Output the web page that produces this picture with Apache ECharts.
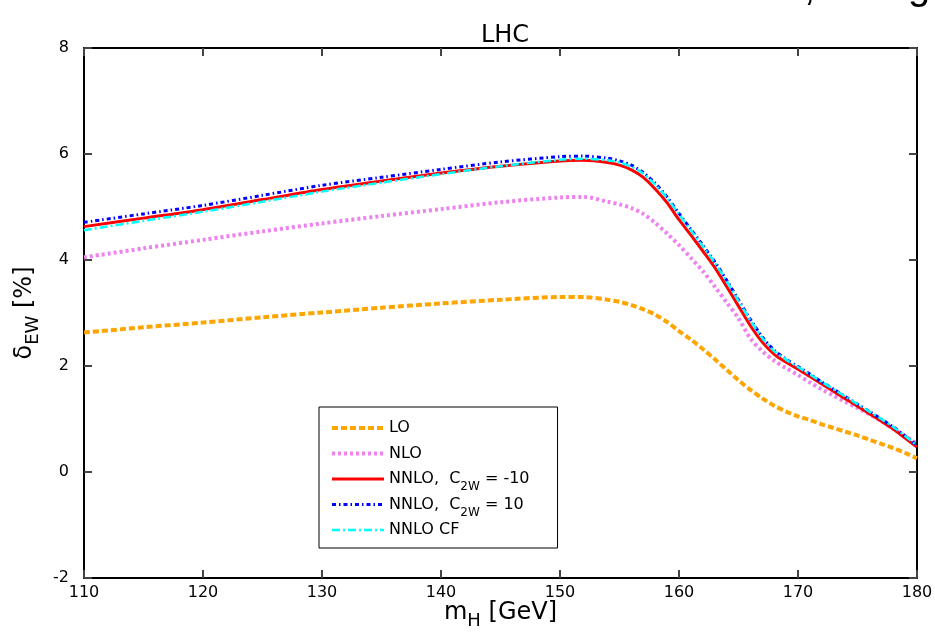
<!DOCTYPE html>
<html>
<head>
<meta charset="utf-8">
<script src="https://cdn.jsdelivr.net/npm/echarts@6/dist/echarts.min.js"></script>
<style>
  html, body { margin: 0; padding: 0; background: #fff; }
  #chart { width: 935px; height: 637px; }
</style>
</head>
<body>
<div id="chart"></div>
<script>
// Higgs mass grid (GeV)
const mH = [110, 115, 120, 125, 130, 135, 140, 145, 150, 152, 154,
  155, 156, 157, 158, 159, 160, 161, 162, 163, 164, 165, 166, 167, 168, 169,
  170, 171, 172, 173, 174, 175, 176, 177, 178, 179, 180];

// electroweak correction delta_EW in percent
const deltaLO = [2.63, 2.73, 2.82, 2.92, 3.01, 3.10, 3.18, 3.25, 3.30, 3.30, 3.25,
  3.21, 3.15, 3.07, 2.97, 2.83, 2.66, 2.50, 2.32, 2.13, 1.93, 1.73, 1.55, 1.39, 1.25, 1.14,
  1.05, 0.98, 0.90, 0.83, 0.76, 0.69, 0.61, 0.53, 0.45, 0.36, 0.26];
const deltaNLO = [4.05, 4.22, 4.38, 4.54, 4.69, 4.83, 4.96, 5.09, 5.18, 5.19, 5.10,
  5.05, 4.98, 4.87, 4.70, 4.50, 4.28, 4.04, 3.79, 3.50, 3.20, 2.90, 2.52, 2.28, 2.10, 1.96,
  1.83, 1.69, 1.56, 1.44, 1.32, 1.21, 1.09, 0.96, 0.82, 0.68, 0.53];
const deltaNNLOm10 = [4.63, 4.79, 4.95, 5.14, 5.33, 5.49, 5.64, 5.77, 5.87, 5.88, 5.84,
  5.79, 5.70, 5.56, 5.34, 5.08, 4.76, 4.47, 4.17, 3.86, 3.50, 3.13, 2.76, 2.45, 2.22, 2.07,
  1.94, 1.80, 1.66, 1.52, 1.38, 1.24, 1.10, 0.96, 0.81, 0.64, 0.47];
const deltaNNLOp10 = [4.71, 4.87, 5.03, 5.22, 5.41, 5.56, 5.71, 5.85, 5.95, 5.96, 5.92,
  5.87, 5.79, 5.65, 5.45, 5.19, 4.88, 4.58, 4.28, 3.97, 3.62, 3.25, 2.88, 2.55, 2.30, 2.13,
  1.99, 1.85, 1.70, 1.56, 1.42, 1.28, 1.14, 1.00, 0.85, 0.68, 0.50];
const deltaNNLOCF = [4.56, 4.74, 4.91, 5.10, 5.29, 5.46, 5.62, 5.77, 5.89, 5.91, 5.88,
  5.84, 5.76, 5.63, 5.42, 5.17, 4.86, 4.56, 4.26, 3.95, 3.60, 3.23, 2.86, 2.53, 2.28, 2.12,
  1.98, 1.84, 1.70, 1.56, 1.42, 1.28, 1.14, 1.00, 0.85, 0.68, 0.50];

// axis ticks
const xTicks = [110, 120, 130, 140, 150, 160, 170, 180];
const yTicks = [-2, 0, 2, 4, 6, 8];

const seriesNames = ['LO', 'NLO', 'NNLO,  C2W = -10', 'NNLO,  C2W = 10', 'NNLO CF'];
const legendRich = {
  'LO': '{n|LO}{s| }',
  'NLO': '{n|NLO}{s| }',
  'NNLO,  C2W = -10': '{n|NNLO,  C}{s|2W}{n| = -10}',
  'NNLO,  C2W = 10': '{n|NNLO,  C}{s|2W}{n| = 10}',
  'NNLO CF': '{n|NNLO CF}{s| }'
};

const FONT = '"DejaVu Sans", "Liberation Sans", Arial, sans-serif';
const pairs = ys => mH.map((x, i) => [x, ys[i]]);

const styles = [
  { color: '#FFA500', width: 4, type: [6, 3] },
  { color: '#EE82EE', width: 4, type: [3, 3] },
  { color: '#FF0000', width: 3, type: 'solid' },
  { color: '#0000FF', width: 3, type: [4, 3, 1.5, 3] },
  { color: '#00FFFF', width: 2.5, type: [8, 3, 2, 3] }
];
const values = [deltaLO, deltaNLO, deltaNNLOm10, deltaNNLOp10, deltaNNLOCF];

const chart = echarts.init(document.getElementById('chart'), null, { renderer: 'canvas' });

const axisCommon = {
  axisLine: { show: true, onZero: false, lineStyle: { color: '#000', width: 2 } },
  axisTick: { show: true, inside: true, length: 8, lineStyle: { color: '#444', width: 2 } },
  splitLine: { show: false }
};

const titleRich = {
  n: { fontFamily: FONT, fontSize: 24, color: '#000', verticalAlign: 'middle', lineHeight: 24 },
  s: { fontFamily: FONT, fontSize: 18, color: '#000', verticalAlign: 'middle', lineHeight: 18, padding: [16, 0, 0, 0] }
};

chart.setOption({
  backgroundColor: '#fff',
  animation: false,
  title: {
    text: 'LHC',
    left: 500, top: 19, textAlign: 'center',
    textStyle: { fontFamily: FONT, fontSize: 24, fontWeight: 'normal', color: '#000' }
  },
  grid: { left: 84, right: 18, top: 48, bottom: 59, outerBoundsMode: 'none', containLabel: false },
  xAxis: [
    Object.assign({}, axisCommon, {
      type: 'value', min: 110, max: 180, interval: 10, position: 'bottom',
      customValues: xTicks,
      axisLabel: { show: true, margin: 7, color: '#000', fontFamily: FONT, fontSize: 16 },
      name: '{n|m}{s|H}{n| [GeV]}',
      nameLocation: 'middle', nameGap: 23, nameMoveOverlap: false,
      nameTextStyle: { rich: titleRich }
    }),
    Object.assign({}, axisCommon, {
      type: 'value', min: 110, max: 180, interval: 10, position: 'top',
      axisLabel: { show: false }
    })
  ],
  yAxis: [
    Object.assign({}, axisCommon, {
      type: 'value', min: -2, max: 8, interval: 2, position: 'left',
      customValues: yTicks,
      axisLabel: { show: true, margin: 15, color: '#000', fontFamily: FONT, fontSize: 16 },
      name: '{n|δ}{s|EW}{n| [%]}',
      nameLocation: 'middle', nameGap: 36,
      nameTextStyle: { rich: titleRich }
    }),
    Object.assign({}, axisCommon, {
      type: 'value', min: -2, max: 8, interval: 2, position: 'right',
      axisLabel: { show: false }
    })
  ],
  legend: {
    orient: 'vertical',
    left: 319, top: 407,
    padding: [7, 28, 4, 11],
    itemGap: -2.5,
    itemWidth: 52, itemHeight: 14,
    itemTextGap: 11,
    borderColor: '#000', borderWidth: 1,
    backgroundColor: '#fff',
    data: seriesNames,
    itemStyle: { opacity: 0 },
    lineStyle: { width: 'inherit' },
    formatter: name => legendRich[name],
    textStyle: {
      rich: {
        n: { fontFamily: FONT, fontSize: 16, color: '#000', verticalAlign: 'middle', lineHeight: 16 },
        s: { fontFamily: FONT, fontSize: 12, color: '#000', verticalAlign: 'middle', lineHeight: 12, padding: [16, 0, 0, 0] }
      }
    }
  },
  graphic: [
    { type: 'text', left: 804, top: -31, style: { text: ',', font: '40px "Liberation Sans", Arial, sans-serif', fill: '#000' }, silent: true },
    { type: 'text', left: 908, top: -32, style: { text: 'g', font: '40px "Liberation Sans", Arial, sans-serif', fill: '#000' }, silent: true }
  ],
  series: values.map((ys, i) => ({
    name: seriesNames[i],
    type: 'line',
    data: pairs(ys),
    xAxisIndex: 0, yAxisIndex: 0,
    symbol: 'none',
    showSymbol: false,
    smooth: 0.3,
    clip: true,
    z: 2 + i,
    lineStyle: { color: styles[i].color, width: styles[i].width, type: styles[i].type, cap: 'butt' },
    itemStyle: { color: styles[i].color }
  }))
});
</script>
</body>
</html>
